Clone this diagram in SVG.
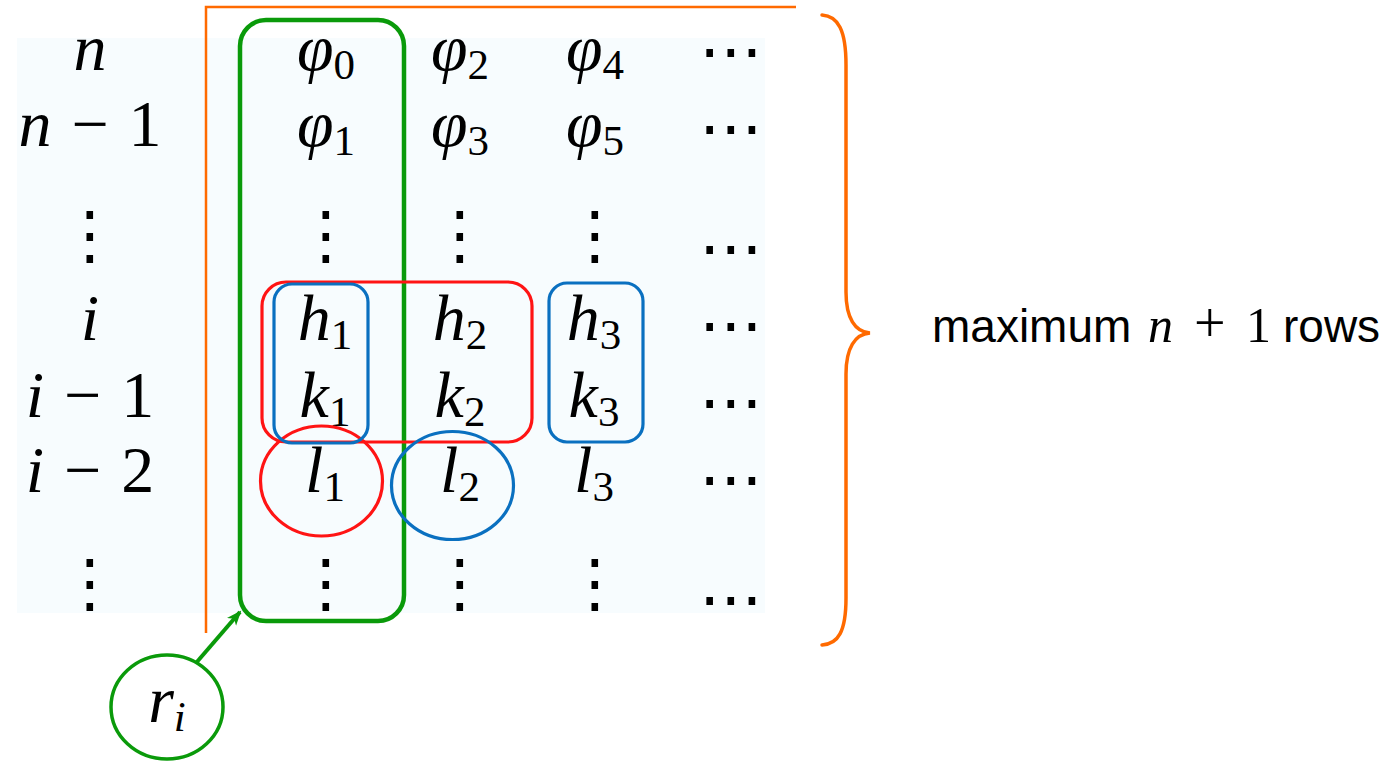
<svg xmlns="http://www.w3.org/2000/svg" width="1391" height="762" viewBox="0 0 1391 762">
<style>
.m{font-family:"Liberation Serif","DejaVu Serif",serif;font-size:66px;fill:#000}
.it{font-style:italic}
.sb{font-size:43px}
.d{font-family:"DejaVu Sans",sans-serif;font-size:64px;fill:#000;text-anchor:middle}
.c{text-anchor:middle}
.sans{font-family:"Liberation Sans",Arial,sans-serif;font-size:46px;fill:#000}
.org{fill:none;stroke:#ff6a00;stroke-width:2.5}
.brace{fill:none;stroke:#ff6a00;stroke-width:3.5;stroke-linecap:round}
.grn{fill:none;stroke:#0a9a0a;stroke-width:4.5}
.red{fill:none;stroke:#ff1414;stroke-width:3.2}
.blu{fill:none;stroke:#0a70c0;stroke-width:3.2}
</style>
<defs>
<marker id="ah" markerWidth="16" markerHeight="14" refX="13" refY="7" orient="auto" markerUnits="userSpaceOnUse">
<path d="M0,1 L15,7 L0,13 L4,7 z" fill="#0a9a0a"/>
</marker>
</defs>
<rect x="0" y="0" width="1391" height="762" fill="#ffffff"/>
<rect id="bg" x="17" y="38" width="748" height="575" fill="#f7fcfe"/>
<g id="frame">
<path class="org" d="M796,7 L206,7 L206,633"/>
</g>
<g id="row-labels">
<text class="m c" x="90" y="70"><tspan class="it">n</tspan></text>
<text class="m c" x="90" y="146"><tspan class="it">n</tspan><tspan dx="20">−</tspan><tspan dx="20">1</tspan></text>
<text class="d" x="90" y="257">⋮</text>
<text class="m c" x="90" y="340"><tspan class="it">i</tspan></text>
<text class="m c" x="90" y="417"><tspan class="it">i</tspan><tspan dx="20">−</tspan><tspan dx="20">1</tspan></text>
<text class="m c" x="90" y="492"><tspan class="it">i</tspan><tspan dx="20">−</tspan><tspan dx="20">2</tspan></text>
<text class="d" x="90" y="605">⋮</text>
</g>
<g id="col-1">
<text class="m c" x="326" y="70"><tspan class="it">φ</tspan><tspan class="sb" dy="9">0</tspan></text>
<text class="m c" x="326" y="146"><tspan class="it">φ</tspan><tspan class="sb" dy="9">1</tspan></text>
<text class="d" x="326" y="257">⋮</text>
<text class="m c" x="325" y="340"><tspan class="it">h</tspan><tspan class="sb" dy="9">1</tspan></text>
<text class="m c" x="325" y="417"><tspan class="it">k</tspan><tspan class="sb" dy="9">1</tspan></text>
<text class="m c" x="325" y="492"><tspan class="it">l</tspan><tspan class="sb" dy="9">1</tspan></text>
<text class="d" x="326" y="605">⋮</text>
</g>
<g id="col-2">
<text class="m c" x="460" y="70"><tspan class="it">φ</tspan><tspan class="sb" dy="9">2</tspan></text>
<text class="m c" x="460" y="146"><tspan class="it">φ</tspan><tspan class="sb" dy="9">3</tspan></text>
<text class="d" x="460" y="257">⋮</text>
<text class="m c" x="460" y="340"><tspan class="it">h</tspan><tspan class="sb" dy="9">2</tspan></text>
<text class="m c" x="460" y="417"><tspan class="it">k</tspan><tspan class="sb" dy="9">2</tspan></text>
<text class="m c" x="460" y="492"><tspan class="it">l</tspan><tspan class="sb" dy="9">2</tspan></text>
<text class="d" x="460" y="605">⋮</text>
</g>
<g id="col-3">
<text class="m c" x="595" y="70"><tspan class="it">φ</tspan><tspan class="sb" dy="9">4</tspan></text>
<text class="m c" x="595" y="146"><tspan class="it">φ</tspan><tspan class="sb" dy="9">5</tspan></text>
<text class="d" x="595" y="257">⋮</text>
<text class="m c" x="594" y="340"><tspan class="it">h</tspan><tspan class="sb" dy="9">3</tspan></text>
<text class="m c" x="594" y="417"><tspan class="it">k</tspan><tspan class="sb" dy="9">3</tspan></text>
<text class="m c" x="594" y="492"><tspan class="it">l</tspan><tspan class="sb" dy="9">3</tspan></text>
<text class="d" x="595" y="605">⋮</text>
</g>
<g id="col-4">
<text class="d" x="731" y="73">⋯</text>
<text class="d" x="731" y="150">⋯</text>
<text class="d" x="731" y="270">⋯</text>
<text class="d" x="731" y="347">⋯</text>
<text class="d" x="731" y="424">⋯</text>
<text class="d" x="731" y="501">⋯</text>
<text class="d" x="731" y="621">⋯</text>
</g>
<g id="group-r">
<rect class="grn" x="240" y="20" width="164" height="601" rx="26"/>
</g>
<g id="group-red">
<rect class="red" x="262" y="282" width="270" height="160" rx="24"/>
<ellipse class="red" cx="321.5" cy="481" rx="61" ry="55"/>
</g>
<g id="group-blue">
<rect class="blu" x="274" y="284" width="94" height="159" rx="18"/>
<rect class="blu" x="549" y="283" width="94" height="159" rx="18"/>
<ellipse class="blu" cx="452.5" cy="485.5" rx="61" ry="54"/>
</g>
<g id="brace">
<path class="brace" d="M822,15 C838,16 846,30 846,65 L846,292 C846,318 855,332 870,333 C855,334 846,348 846,374 L846,598 C846,632 838,644 822,645"/>
</g>
<g id="label-max">
<text class="sans" y="342"><tspan x="932">maximum</tspan><tspan class="m it" x="1148" style="font-size:50px">n</tspan><tspan class="m" x="1194" style="font-size:56px">+</tspan><tspan class="m" x="1246" style="font-size:50px">1</tspan><tspan x="1283">rows</tspan></text>
</g>
<g id="node-ri">
<ellipse class="grn" cx="167" cy="707" rx="56" ry="52" style="stroke-width:3.5"/>
<text class="m c" x="167" y="722"><tspan class="it">r</tspan><tspan class="sb it" dy="9">i</tspan></text>
</g>
<g id="connectors">
<line x1="196" y1="663" x2="240" y2="612" stroke="#0a9a0a" stroke-width="4" marker-end="url(#ah)"/>
</g>
</svg>
